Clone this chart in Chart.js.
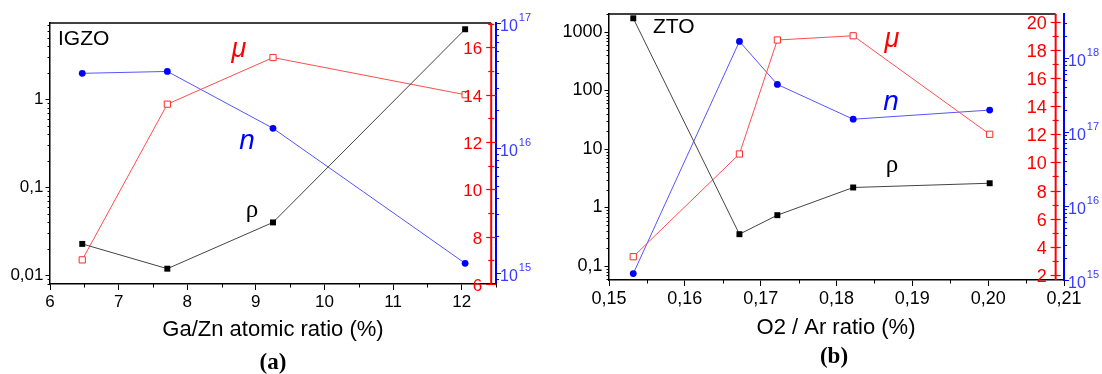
<!DOCTYPE html>
<html>
<head>
<meta charset="utf-8">
<script src="https://cdn.jsdelivr.net/npm/chart.js@4.4.1/dist/chart.umd.min.js"></script>
<style>
    html, body { margin: 0; padding: 0; background: #fff; }
    #wrap { position: relative; width: 1102px; height: 374px; }
    .panel { position: absolute; top: 0; height: 374px; }
    #pa { left: 0; width: 550px; }
    #pb { left: 550px; width: 552px; }
</style>
</head>
<body>
<div id="wrap">
    <div class="panel" id="pa"><canvas id="chartA" width="550" height="374"></canvas></div>
    <div class="panel" id="pb"><canvas id="chartB" width="552" height="374"></canvas></div>
</div>
<script>
// (a) IGZO
const igzoRatio = [6.47, 7.71, 9.25, 12.05];
const igzoRho = [0.0226, 0.0118, 0.0397, 6.28];
const igzoMu = [7.02, 13.6, 15.57, 14.0];
const igzoN = [3.96e16, 4.1e16, 1.44e16, 1.2e15];
const igzoXTicks = [6, 7, 8, 9, 10, 11, 12];
const igzoRhoTicks = [0.01, 0.1, 1];
const igzoMuTicks = [6, 8, 10, 12, 14, 16];
const igzoNTicks = [1e15, 1e16, 1e17];

// (b) ZTO
const ztoRatio = [0.1532, 0.1672, 0.1722, 0.1822, 0.2002];
const ztoRho = [1715, 0.35, 0.74, 2.2, 2.6];
const ztoMu = [3.3, 10.6, 18.7, 19.0, 12.0];
const ztoN = [1.22e15, 1.68e18, 4.4e17, 1.49e17, 1.98e17];
const ztoXTicks = [0.15, 0.16, 0.17, 0.18, 0.19, 0.20, 0.21];
const ztoRhoTicks = [0.1, 1, 10, 100, 1000];
const ztoMuTicks = [2, 4, 6, 8, 10, 12, 14, 16, 18, 20];
const ztoNTicks = [1e15, 1e16, 1e17, 1e18];

const SANS = '"Liberation Sans", Arial, sans-serif';
const SERIF = '"Liberation Serif", "Times New Roman", serif';
const RED = '#ff0000';
const BLUE = '#0000ff';

const commaNum = (v, dec) => (dec ? v.toFixed(dec) : String(v)).replace('.', ',');

const midTicks = (ticks, max) => {
    const out = [];
    for (let i = 0; i < ticks.length - 1; i++) out.push((ticks[i] + ticks[i + 1]) / 2);
    const last = ticks[ticks.length - 1] + (ticks[1] - ticks[0]) / 2;
    if (last <= max + 1e-9) out.push(last);
    return out;
};

const logMinor = (min, max) => {
    const out = [];
    for (let d = Math.floor(Math.log10(min)); d <= Math.floor(Math.log10(max)); d++) {
        for (let m = 2; m <= 9; m++) {
            const v = m * Math.pow(10, d);
            if (v > min && v < max) out.push(v);
        }
    }
    return out;
};

const seg = (ctx, x1, y1, x2, y2, color, w) => {
    ctx.beginPath();
    ctx.strokeStyle = color;
    ctx.lineWidth = w;
    ctx.moveTo(x1, y1);
    ctx.lineTo(x2, y2);
    ctx.stroke();
};
const px = (v) => Math.round(v) + 0.5;

const text = (ctx, str, x, y, font, color, align) => {
    ctx.font = font;
    ctx.fillStyle = color;
    ctx.textAlign = align || 'left';
    ctx.textBaseline = 'alphabetic';
    ctx.fillText(str, x, y);
};

const decoPlugin = {
    id: 'deco',
    afterDraw(chart, args, o) {
        const { ctx, chartArea: ca, scales } = chart;
        const xs = scales.x, yr = scales.yRho, ym = scales.yMu, yn = scales.yN;
        const redX = xs.getPixelForValue(o.redAt);
        ctx.save();

        // top frame
        seg(ctx, ca.left, ca.top, redX, ca.top, '#000', 1.5);

        // x minor ticks
        midTicks(o.xTicks, xs.max).forEach(v => {
            const x = px(xs.getPixelForValue(v));
            seg(ctx, x, ca.bottom, x, ca.bottom + 3.5, '#000', 1);
        });

        // left log minor ticks
        logMinor(yr.min, yr.max).forEach(v => {
            const y = px(yr.getPixelForValue(v));
            seg(ctx, ca.left - 2.5, y, ca.left, y, '#000', 1);
        });

        // red axis (mu)
        seg(ctx, redX, ca.top, redX, ca.bottom, RED, 2);
        o.muTicks.forEach(v => {
            const y = px(ym.getPixelForValue(v));
            seg(ctx, redX - 5, y, redX + 5, y, RED, 1.2);
            text(ctx, String(v), redX - 9, y + o.fs * 0.36, `${o.fs}px ${SANS}`, RED, 'right');
        });
        midTicks(o.muTicks, ym.max).forEach(v => {
            const y = px(ym.getPixelForValue(v));
            seg(ctx, redX - 3, y, redX + 3, y, RED, 1.2);
        });

        // blue axis (n) minor ticks and labels
        const bx = yn.left;
        logMinor(yn.min, yn.max).forEach(v => {
            const y = px(yn.getPixelForValue(v));
            seg(ctx, bx, y, bx + 3, y, BLUE, 1);
        });
        o.nTicks.forEach(v => {
            const y = yn.getPixelForValue(v);
            const base = y + 7.5;
            ctx.font = `16px ${SANS}`;
            const w = ctx.measureText('10').width;
            text(ctx, '10', bx + 4, base, `16px ${SANS}`, '#3a3aff');
            text(ctx, String(Math.round(Math.log10(v))), bx + 5 + w, base - 10, `11px ${SANS}`, '#3a3aff');
        });

        // titles and annotations
        text(ctx, o.xTitle, o.xTitleX, o.xTitleY, `22px ${SANS}`, '#000', 'center');
        text(ctx, o.tag, o.tagX, o.tagY, `bold 23px ${SERIF}`, '#000', 'center');
        text(ctx, o.name, o.nameX, o.nameY, `21px ${SANS}`, '#000', 'left');
        text(ctx, 'μ', o.muX, o.muY, `italic 27px ${SANS}`, RED, 'center');
        text(ctx, 'n', o.nX, o.nY, `italic 28px ${SANS}`, BLUE, 'center');
        text(ctx, 'ρ', o.rhoX, o.rhoY, `25px ${SERIF}`, '#000', 'center');
        ctx.restore();
    }
};

const makePanel = (canvasId, p) => {
    const toXY = (ys) => p.x.map((x, i) => ({ x, y: ys[i] }));
    return new Chart(document.getElementById(canvasId), {
        type: 'line',
        data: {
            datasets: [{
                label: 'ρ',
                data: toXY(p.rho),
                yAxisID: 'yRho',
                borderColor: '#444444',
                borderWidth: 1,
                pointStyle: 'rect',
                pointRadius: 4.2,
                pointBackgroundColor: '#000',
                pointBorderColor: '#000',
                pointBorderWidth: 0
            }, {
                label: 'μ',
                data: toXY(p.mu),
                yAxisID: 'yMu',
                borderColor: '#ff4d4d',
                borderWidth: 1,
                pointStyle: 'rect',
                pointRadius: 4.4,
                pointBackgroundColor: '#fff',
                pointBorderColor: '#ff2a2a',
                pointBorderWidth: 1
            }, {
                label: 'n',
                data: toXY(p.n),
                yAxisID: 'yN',
                borderColor: '#5555ff',
                borderWidth: 1,
                pointStyle: 'circle',
                pointRadius: 3.4,
                pointBackgroundColor: BLUE,
                pointBorderColor: BLUE,
                pointBorderWidth: 0
            }]
        },
        options: {
            responsive: false,
            animation: false,
            layout: { padding: { left: 0, top: p.top, right: p.rightPad, bottom: 0 } },
            plugins: {
                legend: { display: false },
                tooltip: { enabled: false },
                deco: p.deco
            },
            scales: {
                x: {
                    type: 'linear',
                    position: 'bottom',
                    min: p.xMin,
                    max: p.xMax,
                    afterBuildTicks: s => { s.ticks = p.deco.xTicks.map(v => ({ value: v })); },
                    afterFit: s => { s.height = 374 - p.bottom; },
                    ticks: {
                        font: { family: SANS, size: p.deco.fs },
                        color: '#000',
                        padding: 2,
                        maxRotation: 0,
                        autoSkip: false,
                        callback: v => commaNum(v, p.xDec)
                    },
                    grid: { drawOnChartArea: false, tickLength: 6, color: '#000' },
                    border: { color: '#000', width: 1.5 }
                },
                yRho: {
                    type: 'logarithmic',
                    position: 'left',
                    min: p.rhoMin,
                    max: p.rhoMax,
                    afterBuildTicks: s => { s.ticks = p.rhoTicks.map(v => ({ value: v })); },
                    afterFit: s => { s.width = p.left; },
                    ticks: {
                        font: { family: SANS, size: p.deco.fs },
                        color: '#000',
                        padding: 2,
                        callback: v => commaNum(v)
                    },
                    grid: { drawOnChartArea: false, tickLength: 4.5, color: '#000' },
                    border: { color: '#000', width: 1.5 }
                },
                yMu: {
                    type: 'linear',
                    position: 'right',
                    display: false,
                    min: p.muMin,
                    max: p.muMax
                },
                yN: {
                    type: 'logarithmic',
                    position: 'right',
                    weight: 1,
                    min: p.nMin,
                    max: p.nMax,
                    afterBuildTicks: s => { s.ticks = p.deco.nTicks.map(v => ({ value: v })); },
                    afterFit: s => { s.width = p.blueW; },
                    ticks: { display: false },
                    grid: { drawOnChartArea: false, tickLength: 5, color: BLUE },
                    border: { color: BLUE, width: 2 }
                }
            }
        },
        plugins: [decoPlugin]
    });
};

makePanel('chartA', {
    x: igzoRatio, rho: igzoRho, mu: igzoMu, n: igzoN,
    rhoTicks: igzoRhoTicks,
    xMin: 6, xMax: 12.5, xDec: 0,
    rhoMin: 0.0079, rhoMax: 7.4,
    muMin: 6, muMax: 17.03,
    nMin: 8.2e14, nMax: 1e17,
    left: 50, top: 23, bottom: 284, blueW: 40, rightPad: 14,
    deco: {
        fs: 17, redAt: 12.43,
        xTicks: igzoXTicks, muTicks: igzoMuTicks, nTicks: igzoNTicks,
        xTitle: 'Ga/Zn atomic ratio (%)', xTitleX: 273, xTitleY: 336,
        tag: '(a)', tagX: 273, tagY: 369,
        name: 'IGZO', nameX: 58, nameY: 45,
        muX: 239, muY: 57, nX: 247, nY: 149, rhoX: 252, rhoY: 217
    }
});

makePanel('chartB', {
    x: ztoRatio, rho: ztoRho, mu: ztoMu, n: ztoN,
    rhoTicks: ztoRhoTicks,
    xMin: 0.15, xMax: 0.21, xDec: 2,
    rhoMin: 0.0577, rhoMax: 2031,
    muMin: 1.645, muMax: 20.547,
    nMin: 1e15, nMax: 3.94e18,
    left: 59, top: 14, bottom: 280, blueW: 36, rightPad: 2,
    deco: {
        fs: 18, redAt: 0.2089,
        xTicks: ztoXTicks, muTicks: ztoMuTicks, nTicks: ztoNTicks,
        xTitle: 'O2 / Ar ratio (%)', xTitleX: 286, xTitleY: 334,
        tag: '(b)', tagX: 284, tagY: 363,
        name: 'ZTO', nameX: 103, nameY: 33,
        muX: 342, muY: 47, nX: 341, nY: 110, rhoX: 342, rhoY: 172
    }
});
</script>
</body>
</html>
